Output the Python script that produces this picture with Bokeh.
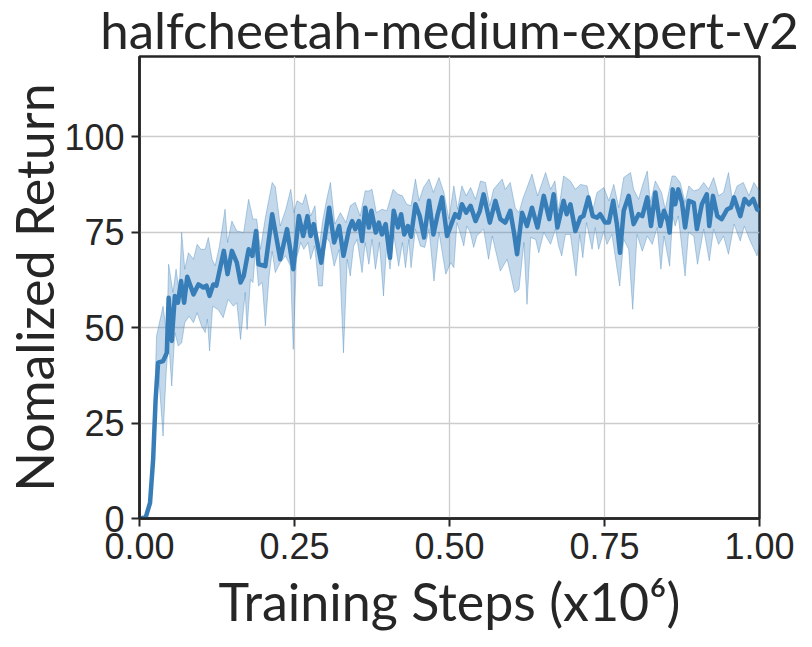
from bokeh.plotting import figure
from bokeh.models import Range1d, FixedTicker, PrintfTickFormatter
from bokeh.embed import file_html
from bokeh.resources import INLINE

title_text = "halfcheetah-medium-expert-v2"
x_label = "Training Steps (x10\u2076)"
y_label = "Nomalized Return"
x_ticks = [0.0, 0.25, 0.5, 0.75, 1.0]
y_ticks = [0, 25, 50, 75, 100]

mean_steps = [0.000, 0.010, 0.017, 0.022, 0.026, 0.030, 0.038, 0.044, 0.047, 0.052,
              0.057, 0.062, 0.067, 0.072, 0.077, 0.087, 0.095, 0.103, 0.108, 0.113,
              0.119, 0.124, 0.136, 0.142, 0.149, 0.157, 0.163, 0.168, 0.176, 0.182,
              0.188, 0.192, 0.203, 0.214, 0.227, 0.238, 0.248, 0.257, 0.264, 0.271,
              0.276, 0.281, 0.293, 0.306, 0.314, 0.322, 0.329, 0.338, 0.343, 0.348,
              0.354, 0.359, 0.364, 0.370, 0.374, 0.381, 0.386, 0.391, 0.397, 0.404,
              0.410, 0.417, 0.422, 0.427, 0.433, 0.438, 0.445, 0.452, 0.459, 0.467,
              0.474, 0.481, 0.488, 0.496, 0.504, 0.509, 0.515, 0.520, 0.527, 0.534,
              0.542, 0.549, 0.555, 0.565, 0.574, 0.582, 0.590, 0.598, 0.604, 0.609,
              0.617, 0.625, 0.633, 0.642, 0.652, 0.661, 0.668, 0.674, 0.684, 0.689,
              0.695, 0.703, 0.711, 0.716, 0.724, 0.731, 0.738, 0.743, 0.751, 0.757,
              0.764, 0.770, 0.775, 0.781, 0.789, 0.797, 0.805, 0.811, 0.819, 0.825,
              0.832, 0.840, 0.846, 0.852, 0.855, 0.860, 0.864, 0.869, 0.875, 0.880,
              0.886, 0.894, 0.899, 0.907, 0.915, 0.919, 0.925, 0.932, 0.939, 0.948,
              0.954, 0.959, 0.969, 0.976, 0.983, 0.990, 0.996, 1.000]
mean_vals = [0.0, 0.3, 4.1, 15.5, 31.2, 40.8, 41.2, 43.4, 57.8, 46.5,
             58.3, 56.5, 62.2, 56.5, 63.3, 58.7, 61.3, 60.5, 61.0, 58.3,
             61.3, 61.0, 70.1, 64.0, 70.1, 67.0, 61.8, 63.5, 70.5, 68.8,
             75.3, 66.6, 66.1, 79.7, 67.9, 75.8, 65.3, 79.2, 74.0, 79.2,
             74.0, 77.1, 67.0, 81.4, 72.3, 76.6, 68.8, 75.8, 77.9, 75.8,
             77.9, 72.7, 81.4, 76.2, 80.6, 74.9, 77.5, 74.4, 77.1, 68.3,
             80.6, 76.2, 79.7, 74.4, 76.6, 73.8, 82.3, 79.2, 73.6, 83.2,
             74.4, 79.7, 84.1, 74.0, 77.5, 79.7, 78.8, 82.3, 80.1, 81.9,
             77.9, 80.6, 84.9, 77.5, 83.2, 78.4, 77.5, 80.6, 74.9, 69.2,
             80.1, 76.6, 81.4, 76.2, 84.5, 78.4, 84.9, 76.2, 83.2, 79.7,
             82.3, 75.3, 78.8, 79.2, 84.1, 79.2, 78.8, 79.7, 77.5, 77.5,
             83.2, 77.1, 69.6, 80.6, 84.5, 77.1, 79.7, 79.2, 84.1, 76.6,
             85.4, 76.6, 80.6, 77.9, 74.9, 86.2, 82.3, 86.2, 82.7, 76.2,
             83.2, 82.7, 75.8, 82.3, 84.9, 76.6, 84.5, 79.2, 78.4, 81.0,
             81.4, 84.1, 79.2, 83.7, 82.3, 83.7, 81.0, 80.6]

upper_steps = [0.000, 0.010, 0.017, 0.022, 0.0275, 0.038, 0.044, 0.047, 0.054, 0.059,
               0.064, 0.068, 0.073, 0.079, 0.087, 0.093, 0.099, 0.106, 0.111, 0.117,
               0.122, 0.129, 0.138, 0.142, 0.149, 0.157, 0.168, 0.176, 0.183, 0.189,
               0.195, 0.203, 0.214, 0.219, 0.227, 0.236, 0.244, 0.249, 0.254, 0.263,
               0.268, 0.276, 0.283, 0.289, 0.295, 0.302, 0.308, 0.315, 0.324, 0.333,
               0.340, 0.348, 0.356, 0.364, 0.370, 0.375, 0.382, 0.391, 0.399, 0.409,
               0.417, 0.424, 0.431, 0.438, 0.445, 0.451, 0.458, 0.467, 0.474, 0.483,
               0.491, 0.499, 0.507, 0.513, 0.520, 0.527, 0.534, 0.542, 0.550, 0.558,
               0.565, 0.571, 0.585, 0.590, 0.598, 0.606, 0.612, 0.619, 0.624, 0.633,
               0.642, 0.655, 0.663, 0.670, 0.676, 0.684, 0.695, 0.703, 0.711, 0.722,
               0.730, 0.738, 0.749, 0.757, 0.765, 0.773, 0.781, 0.792, 0.797, 0.805,
               0.811, 0.819, 0.824, 0.832, 0.842, 0.848, 0.853, 0.859, 0.864, 0.872,
               0.880, 0.886, 0.894, 0.902, 0.910, 0.918, 0.926, 0.934, 0.942, 0.950,
               0.956, 0.964, 0.974, 0.983, 0.991, 0.998, 1.000]
upper_vals = [0.0, 0.5, 5.0, 18.0, 47.8, 55.6, 47.8, 66.6, 59.2, 65.3,
              59.2, 74.9, 65.3, 69.6, 67.9, 71.8, 70.5, 70.5, 73.6, 67.9,
              66.2, 71.4, 81.0, 72.3, 77.9, 75.3, 74.9, 83.6, 78.4, 78.4,
              70.5, 78.8, 88.0, 86.9, 76.6, 81.0, 86.2, 80.1, 83.2, 82.3,
              84.9, 79.2, 81.9, 69.6, 77.5, 83.6, 88.0, 77.1, 80.1, 77.5,
              81.9, 82.8, 79.2, 85.8, 85.8, 86.2, 80.1, 81.0, 80.6, 86.2,
              84.9, 84.5, 82.3, 81.9, 88.9, 83.2, 86.7, 88.9, 85.4, 89.3,
              85.4, 78.4, 87.1, 81.0, 87.1, 84.5, 86.7, 83.6, 88.4, 88.0,
              81.9, 86.2, 88.9, 86.2, 88.0, 81.4, 80.1, 84.1, 86.2, 90.2,
              84.5, 90.6, 86.2, 88.4, 80.6, 89.7, 88.4, 86.2, 87.5, 87.1,
              80.1, 85.4, 86.7, 83.2, 87.5, 81.4, 89.3, 90.6, 86.2, 83.6,
              87.1, 91.0, 82.8, 88.4, 85.4, 81.0, 84.9, 89.7, 89.7, 88.0,
              82.8, 87.1, 85.8, 86.2, 88.0, 86.2, 89.3, 84.5, 85.4, 90.6,
              83.6, 87.1, 88.0, 84.5, 88.0, 86.2, 86.0]

lower_steps = [0.000, 0.010, 0.017, 0.022, 0.026, 0.030, 0.033, 0.038, 0.043, 0.047,
               0.052, 0.057, 0.0625, 0.068, 0.073, 0.080, 0.087, 0.093, 0.100, 0.106,
               0.1095, 0.113, 0.118, 0.127, 0.135, 0.143, 0.1515, 0.157, 0.163, 0.1705,
               0.1735, 0.179, 0.183, 0.187, 0.192, 0.198, 0.203, 0.209, 0.214, 0.219,
               0.227, 0.2355, 0.2435, 0.248, 0.253, 0.260, 0.265, 0.272, 0.276, 0.2825,
               0.289, 0.295, 0.300, 0.307, 0.314, 0.322, 0.329, 0.335, 0.340, 0.3455,
               0.351, 0.359, 0.364, 0.370, 0.375, 0.3805, 0.387, 0.3935, 0.399, 0.404,
               0.410, 0.418, 0.424, 0.429, 0.4345, 0.438, 0.445, 0.453, 0.460, 0.467,
               0.475, 0.483, 0.494, 0.502, 0.507, 0.512, 0.517, 0.523, 0.528, 0.5335,
               0.539, 0.544, 0.555, 0.563, 0.569, 0.582, 0.593, 0.605, 0.612, 0.620,
               0.625, 0.631, 0.639, 0.644, 0.652, 0.663, 0.671, 0.676, 0.681, 0.687,
               0.695, 0.704, 0.710, 0.715, 0.721, 0.730, 0.735, 0.7405, 0.749, 0.754,
               0.762, 0.770, 0.7745, 0.781, 0.789, 0.7955, 0.8025, 0.811, 0.819, 0.827,
               0.835, 0.841, 0.846, 0.855, 0.860, 0.864, 0.869, 0.880, 0.8855, 0.894,
               0.900, 0.910, 0.919, 0.926, 0.934, 0.942, 0.950, 0.959, 0.969, 0.9755,
               0.985, 0.996, 1.000]
lower_vals = [0.0, 0.0, 3.5, 14.0, 29.0, 39.9, 32.9, 21.6, 38.2, 46.9,
              34.7, 48.7, 45.2, 46.0, 51.3, 53.0, 51.3, 53.9, 50.4, 48.7,
              52.2, 43.9, 55.6, 54.7, 52.6, 57.4, 55.6, 56.5, 46.9, 59.2,
              49.5, 62.6, 61.8, 70.0, 60.9, 61.8, 50.4, 63.5, 70.0, 64.4,
              67.0, 68.8, 66.1, 44.3, 67.9, 72.3, 70.5, 72.3, 67.9, 71.4,
              60.9, 60.9, 74.0, 72.3, 66.1, 70.5, 43.4, 67.9, 63.5, 71.4,
              73.1, 64.4, 72.3, 66.6, 73.1, 65.3, 72.3, 58.3, 72.3, 65.3,
              74.4, 66.1, 72.3, 65.7, 73.1, 65.7, 75.8, 71.4, 71.0, 75.8,
              62.2, 75.0, 64.0, 67.0, 65.7, 77.5, 74.9, 71.4, 76.6, 74.9,
              71.0, 74.0, 75.8, 67.9, 74.0, 64.8, 67.9, 59.2, 60.0, 72.3,
              56.1, 73.6, 73.1, 69.6, 74.9, 71.8, 75.8, 71.4, 68.8, 74.4,
              74.4, 63.5, 74.4, 68.3, 77.5, 70.5, 76.2, 70.5, 75.3, 71.8,
              74.4, 65.7, 60.9, 73.1, 70.5, 54.8, 74.4, 70.0, 74.0, 71.8,
              76.2, 65.3, 74.0, 66.1, 79.2, 76.6, 79.2, 63.5, 74.9, 74.0,
              66.6, 75.8, 67.5, 75.8, 71.8, 74.0, 69.2, 77.1, 72.7, 76.6,
              72.7, 68.8, 72.0]

DARK = "#262626"
BLUE = "#377eb8"

p = figure(frame_width=620, frame_height=462,
           x_range=Range1d(0, 1), y_range=Range1d(0, 121),
           min_border_left=132, min_border_right=44,
           min_border_top=49, min_border_bottom=120,
           output_backend="svg", toolbar_location=None)

band_x = upper_steps + lower_steps[::-1]
band_y = upper_vals + lower_vals[::-1]
p.patch(band_x, band_y, fill_color=BLUE, fill_alpha=0.3,
        line_color=BLUE, line_alpha=0.35, line_width=1)
p.line(mean_steps, mean_vals, line_color=BLUE, line_width=4.5, line_join="round")

p.title.text = title_text
p.title.align = "center"
p.title.text_font = "Lato"
p.title.text_font_size = "51px"
p.title.text_font_style = "normal"
p.title.text_color = DARK
p.title.standoff = -7
p.title.text_line_height = 0.9

p.outline_line_color = DARK
p.outline_line_width = 2.5
p.outline_line_alpha = 1.0

for ax in (p.xaxis, p.yaxis):
    ax.axis_line_color = DARK
    ax.axis_line_width = 2.5
    ax.major_tick_line_color = DARK
    ax.major_tick_line_width = 2
    ax.major_tick_out = 8
    ax.major_tick_in = 0
    ax.minor_tick_line_color = None
    ax.major_label_text_font = "Liberation Sans"
    ax.major_label_text_font_size = "36px"
    ax.major_label_text_color = DARK
    ax.axis_label_text_font = "Lato"
    ax.axis_label_text_font_size = "52px"
    ax.axis_label_text_font_style = "normal"
    ax.axis_label_text_color = DARK
    ax.axis_label_text_line_height = 0.9

p.xaxis.ticker = FixedTicker(ticks=x_ticks)
p.yaxis.ticker = FixedTicker(ticks=y_ticks)
p.xaxis.formatter = PrintfTickFormatter(format="%.2f")
p.xaxis.axis_label = x_label
p.yaxis.axis_label = y_label
p.xaxis.major_label_standoff = 6
p.yaxis.major_label_standoff = 7
p.xaxis.axis_label_standoff = 8
p.yaxis.axis_label_standoff = -4

p.xgrid.ticker = FixedTicker(ticks=x_ticks)
p.ygrid.ticker = FixedTicker(ticks=y_ticks)
p.grid.grid_line_color = "#cccccc"
p.grid.grid_line_width = 1.3
p.background_fill_color = "white"
p.border_fill_color = "white"

open("out.html", "w").write(file_html(p, INLINE))
